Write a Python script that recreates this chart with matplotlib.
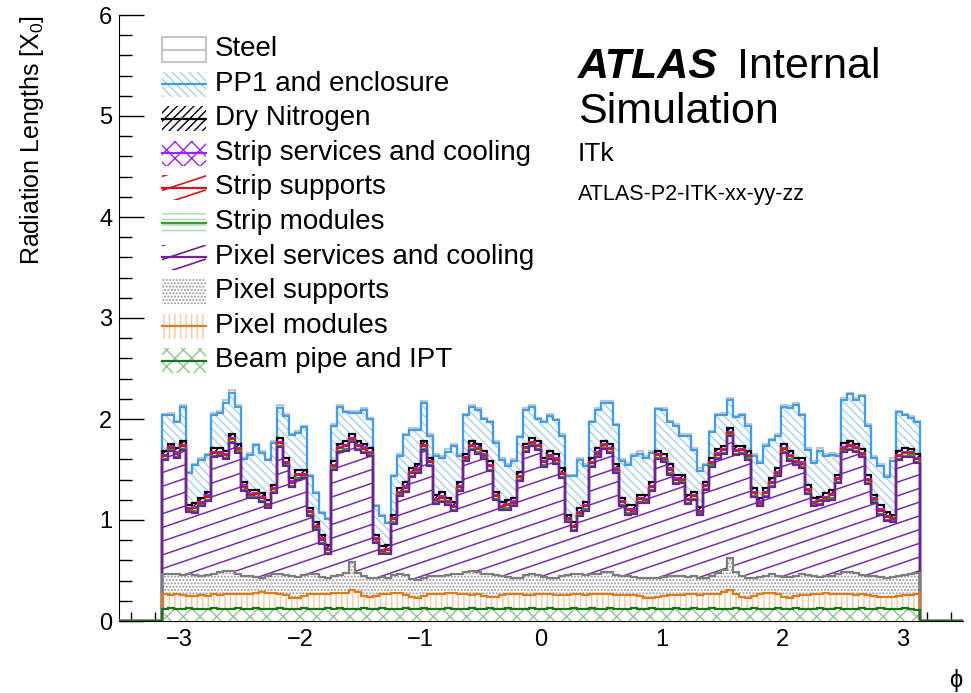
import numpy as np
import matplotlib
matplotlib.use('Agg')
import matplotlib.pyplot as plt
from matplotlib.patches import Rectangle
from matplotlib.lines import Line2D
from matplotlib.collections import LineCollection
from matplotlib.ticker import MultipleLocator
from matplotlib.transforms import Affine2D

plt.rcParams['font.family'] = ['Liberation Sans', 'DejaVu Sans']
plt.rcParams['mathtext.default'] = 'regular'
plt.rcParams['hatch.linewidth'] = 1.0

# ── binning in phi ──────────────────────────────────────────
n_bins = 126
phi_edges = np.linspace(-np.pi, np.pi, n_bins + 1)

# ── stack boundaries (X0) ───────────────────────────────────
# top of everything (steel on top of PP1)
top_total = [
    2.05, 2.06, 1.98, 2.14, 1.48, 1.55, 1.61, 1.65, 2.06, 2.08, 2.19, 2.29, 2.14, 1.61, 1.66, 1.75, 1.68, 1.60,
    1.78, 2.14, 2.05, 1.85, 1.88, 1.93, 1.45, 1.28, 1.08, 1.02, 1.95, 2.14, 2.08, 2.08, 2.08, 2.11, 2.01, 1.15,
    1.05, 0.98, 1.45, 1.65, 1.85, 1.91, 1.91, 2.18, 1.85, 1.65, 1.63, 1.70, 1.75, 1.65, 2.05, 2.14, 2.11, 2.01,
    1.98, 1.78, 1.61, 1.55, 1.60, 1.83, 2.11, 2.14, 2.01, 1.98, 2.05, 2.00, 1.85, 1.45, 1.45, 1.61, 1.55, 1.98,
    2.11, 2.18, 2.18, 1.95, 1.60, 1.56, 1.65, 1.68, 1.63, 1.68, 2.11, 2.11, 1.98, 1.95, 1.85, 1.85, 1.71, 1.51,
    1.55, 1.88, 2.05, 2.06, 2.21, 2.03, 2.05, 1.95, 1.65, 1.58, 1.75, 1.80, 1.85, 2.14, 2.13, 2.16, 2.05, 1.71,
    1.58, 1.71, 1.65, 1.66, 1.65, 2.21, 2.26, 2.21, 2.24, 1.95, 1.63, 1.55, 1.45, 1.61, 2.08, 2.05, 2.03, 1.98,
]
# top of the dry nitrogen (everything except PP1 and steel)
top_dry_n2 = [
    1.68, 1.75, 1.71, 1.78, 1.15, 1.17, 1.22, 1.28, 1.71, 1.71, 1.68, 1.85, 1.75, 1.38, 1.30, 1.30, 1.27, 1.20,
    1.35, 1.81, 1.61, 1.42, 1.50, 1.50, 1.12, 0.98, 0.85, 0.75, 1.58, 1.75, 1.78, 1.85, 1.78, 1.75, 1.71, 0.85,
    0.74, 0.75, 1.05, 1.32, 1.38, 1.51, 1.55, 1.78, 1.61, 1.25, 1.28, 1.22, 1.18, 1.38, 1.65, 1.78, 1.75, 1.68,
    1.58, 1.28, 1.18, 1.20, 1.22, 1.48, 1.75, 1.81, 1.78, 1.61, 1.68, 1.65, 1.51, 1.05, 0.98, 1.12, 1.18, 1.61,
    1.71, 1.78, 1.75, 1.55, 1.22, 1.15, 1.15, 1.25, 1.25, 1.38, 1.68, 1.65, 1.55, 1.45, 1.45, 1.25, 1.28, 1.13,
    1.38, 1.61, 1.70, 1.73, 1.91, 1.73, 1.73, 1.68, 1.32, 1.22, 1.32, 1.42, 1.51, 1.75, 1.68, 1.61, 1.61, 1.35,
    1.22, 1.23, 1.27, 1.30, 1.45, 1.76, 1.78, 1.75, 1.70, 1.45, 1.25, 1.15, 1.08, 1.05, 1.68, 1.71, 1.70, 1.65,
]
# top of the pixel supports
top_pix_sup = [
    0.463, 0.463, 0.469, 0.453, 0.463, 0.453, 0.443, 0.453, 0.463, 0.482, 0.496, 0.493, 0.463, 0.449, 0.443, 0.436, 0.423, 0.443,
    0.463, 0.466, 0.453, 0.443, 0.436, 0.453, 0.466, 0.463, 0.436, 0.423, 0.449, 0.459, 0.476, 0.585, 0.476, 0.443, 0.429, 0.423,
    0.436, 0.429, 0.456, 0.463, 0.453, 0.416, 0.410, 0.429, 0.446, 0.449, 0.449, 0.456, 0.463, 0.463, 0.482, 0.493, 0.489, 0.469,
    0.463, 0.456, 0.449, 0.436, 0.423, 0.429, 0.453, 0.463, 0.456, 0.436, 0.429, 0.423, 0.449, 0.456, 0.463, 0.463, 0.456, 0.463,
    0.469, 0.486, 0.482, 0.456, 0.446, 0.443, 0.436, 0.429, 0.423, 0.429, 0.423, 0.436, 0.443, 0.449, 0.443, 0.436, 0.449, 0.429,
    0.423, 0.449, 0.476, 0.503, 0.622, 0.482, 0.443, 0.429, 0.423, 0.436, 0.449, 0.463, 0.449, 0.436, 0.436, 0.443, 0.463, 0.456,
    0.443, 0.436, 0.443, 0.449, 0.463, 0.482, 0.489, 0.476, 0.456, 0.449, 0.443, 0.436, 0.429, 0.436, 0.443, 0.456, 0.463, 0.476,
]
# top of the pixel modules
top_pix_mod = [
    0.264, 0.260, 0.264, 0.254, 0.244, 0.250, 0.257, 0.244, 0.264, 0.260, 0.264, 0.270, 0.270, 0.264, 0.270, 0.277, 0.284, 0.280,
    0.277, 0.264, 0.254, 0.230, 0.227, 0.250, 0.264, 0.270, 0.267, 0.267, 0.277, 0.277, 0.280, 0.310, 0.287, 0.244, 0.234, 0.250,
    0.264, 0.270, 0.277, 0.274, 0.257, 0.234, 0.227, 0.250, 0.270, 0.270, 0.267, 0.274, 0.277, 0.270, 0.267, 0.260, 0.264, 0.244,
    0.237, 0.240, 0.257, 0.267, 0.270, 0.264, 0.260, 0.257, 0.264, 0.270, 0.267, 0.260, 0.257, 0.260, 0.264, 0.267, 0.260, 0.270,
    0.270, 0.267, 0.264, 0.257, 0.260, 0.257, 0.260, 0.244, 0.230, 0.224, 0.237, 0.250, 0.254, 0.257, 0.260, 0.264, 0.267, 0.260,
    0.267, 0.270, 0.267, 0.284, 0.310, 0.264, 0.237, 0.230, 0.244, 0.264, 0.274, 0.277, 0.270, 0.237, 0.227, 0.244, 0.257, 0.260,
    0.270, 0.270, 0.274, 0.270, 0.267, 0.264, 0.264, 0.260, 0.264, 0.257, 0.244, 0.237, 0.237, 0.240, 0.250, 0.257, 0.260, 0.264,
]

# ── per-material values (X0) ────────────────────────────────
beam_pipe = [
    0.12, 0.13, 0.12, 0.12, 0.13, 0.12, 0.12, 0.12, 0.13, 0.12, 0.12, 0.12, 0.13, 0.12, 0.12, 0.13, 0.12, 0.12,
    0.12, 0.13, 0.12, 0.12, 0.12, 0.13, 0.12, 0.12, 0.12, 0.13, 0.12, 0.13, 0.12, 0.12, 0.12, 0.13, 0.12, 0.12,
    0.13, 0.12, 0.12, 0.12, 0.13, 0.12, 0.12, 0.13, 0.12, 0.12, 0.12, 0.13, 0.12, 0.12, 0.12, 0.13, 0.12, 0.12,
    0.13, 0.12, 0.12, 0.13, 0.12, 0.12, 0.12, 0.13, 0.12, 0.12, 0.13, 0.12, 0.12, 0.12, 0.13, 0.12, 0.12, 0.13,
    0.12, 0.12, 0.13, 0.12, 0.12, 0.12, 0.13, 0.12, 0.12, 0.13, 0.12, 0.12, 0.12, 0.13, 0.12, 0.12, 0.13, 0.12,
    0.12, 0.13, 0.12, 0.12, 0.12, 0.13, 0.12, 0.12, 0.13, 0.12, 0.12, 0.12, 0.13, 0.12, 0.12, 0.13, 0.12, 0.12,
    0.12, 0.13, 0.12, 0.12, 0.13, 0.12, 0.12, 0.12, 0.13, 0.12, 0.12, 0.13, 0.12, 0.12, 0.12, 0.13, 0.12, 0.11,
]
steel = [
    0.01, 0.02, 0.01, 0.02, 0.01, 0.01, 0.02, 0.01, 0.02, 0.02, 0.03, 0.03, 0.02, 0.01, 0.02, 0.01, 0.02, 0.01,
    0.02, 0.03, 0.02, 0.01, 0.02, 0.01, 0.01, 0.01, 0.01, 0.01, 0.02, 0.02, 0.01, 0.02, 0.02, 0.02, 0.01, 0.01,
    0.01, 0.01, 0.01, 0.02, 0.01, 0.02, 0.02, 0.02, 0.02, 0.02, 0.02, 0.03, 0.02, 0.02, 0.01, 0.02, 0.02, 0.01,
    0.01, 0.02, 0.02, 0.02, 0.02, 0.01, 0.02, 0.02, 0.01, 0.01, 0.02, 0.01, 0.02, 0.01, 0.01, 0.02, 0.02, 0.01,
    0.02, 0.02, 0.02, 0.01, 0.02, 0.02, 0.02, 0.03, 0.02, 0.02, 0.01, 0.02, 0.01, 0.02, 0.02, 0.02, 0.02, 0.02,
    0.01, 0.01, 0.01, 0.02, 0.02, 0.01, 0.01, 0.02, 0.02, 0.02, 0.02, 0.01, 0.02, 0.02, 0.02, 0.02, 0.01, 0.02,
    0.02, 0.03, 0.02, 0.02, 0.02, 0.02, 0.01, 0.02, 0.01, 0.02, 0.02, 0.02, 0.02, 0.03, 0.01, 0.01, 0.02, 0.01,
]
dry_n2 = [
    0.04, 0.03, 0.04, 0.04, 0.03, 0.04, 0.04, 0.03, 0.04, 0.04, 0.03, 0.04, 0.04, 0.03, 0.04, 0.03, 0.04, 0.04,
    0.03, 0.04, 0.04, 0.03, 0.04, 0.04, 0.03, 0.04, 0.03, 0.04, 0.04, 0.03, 0.04, 0.04, 0.04, 0.03, 0.04, 0.03,
    0.04, 0.04, 0.03, 0.04, 0.04, 0.03, 0.04, 0.04, 0.03, 0.04, 0.04, 0.03, 0.04, 0.04, 0.03, 0.04, 0.04, 0.03,
    0.04, 0.03, 0.04, 0.04, 0.03, 0.04, 0.03, 0.04, 0.04, 0.03, 0.04, 0.04, 0.04, 0.03, 0.04, 0.04, 0.03, 0.04,
    0.04, 0.03, 0.04, 0.04, 0.03, 0.04, 0.04, 0.03, 0.04, 0.04, 0.03, 0.04, 0.04, 0.03, 0.04, 0.04, 0.03, 0.04,
    0.03, 0.04, 0.04, 0.03, 0.04, 0.04, 0.03, 0.04, 0.04, 0.03, 0.04, 0.04, 0.03, 0.04, 0.04, 0.03, 0.04, 0.04,
    0.04, 0.03, 0.04, 0.04, 0.03, 0.04, 0.04, 0.03, 0.04, 0.04, 0.03, 0.04, 0.04, 0.03, 0.04, 0.04, 0.03, 0.04,
]
strip_services = [
    0.01, 0.01, 0.02, 0.01, 0.01, 0.01, 0.01, 0.02, 0.01, 0.01, 0.01, 0.01, 0.01, 0.02, 0.01, 0.01, 0.01, 0.01,
    0.01, 0.01, 0.01, 0.02, 0.01, 0.01, 0.01, 0.01, 0.02, 0.01, 0.01, 0.01, 0.01, 0.01, 0.01, 0.02, 0.01, 0.01,
    0.01, 0.01, 0.01, 0.01, 0.02, 0.01, 0.01, 0.01, 0.01, 0.01, 0.02, 0.01, 0.01, 0.01, 0.01, 0.01, 0.01, 0.02,
    0.01, 0.01, 0.01, 0.01, 0.02, 0.01, 0.01, 0.01, 0.01, 0.01, 0.01, 0.02, 0.01, 0.01, 0.01, 0.01, 0.01, 0.01,
    0.02, 0.01, 0.01, 0.01, 0.01, 0.01, 0.02, 0.01, 0.01, 0.01, 0.01, 0.01, 0.01, 0.02, 0.01, 0.01, 0.01, 0.01,
    0.01, 0.01, 0.02, 0.01, 0.01, 0.01, 0.01, 0.01, 0.01, 0.02, 0.01, 0.01, 0.01, 0.01, 0.01, 0.01, 0.02, 0.01,
    0.01, 0.01, 0.01, 0.01, 0.01, 0.02, 0.01, 0.01, 0.01, 0.01, 0.01, 0.02, 0.01, 0.01, 0.01, 0.01, 0.01, 0.01,
]
strip_supports = [
    0.03, 0.02, 0.03, 0.03, 0.02, 0.03, 0.02, 0.03, 0.03, 0.02, 0.03, 0.03, 0.02, 0.03, 0.02, 0.03, 0.03, 0.02,
    0.03, 0.03, 0.02, 0.03, 0.03, 0.02, 0.03, 0.02, 0.03, 0.03, 0.02, 0.03, 0.03, 0.02, 0.03, 0.03, 0.02, 0.03,
    0.02, 0.03, 0.03, 0.02, 0.03, 0.03, 0.02, 0.03, 0.03, 0.02, 0.03, 0.02, 0.03, 0.03, 0.02, 0.03, 0.03, 0.02,
    0.03, 0.03, 0.02, 0.03, 0.02, 0.03, 0.03, 0.02, 0.03, 0.03, 0.02, 0.03, 0.03, 0.02, 0.03, 0.02, 0.03, 0.03,
    0.02, 0.03, 0.03, 0.02, 0.03, 0.03, 0.02, 0.03, 0.02, 0.03, 0.03, 0.02, 0.03, 0.03, 0.02, 0.03, 0.03, 0.02,
    0.03, 0.02, 0.03, 0.03, 0.02, 0.03, 0.03, 0.02, 0.03, 0.02, 0.03, 0.03, 0.02, 0.03, 0.03, 0.02, 0.03, 0.03,
    0.02, 0.03, 0.02, 0.03, 0.03, 0.02, 0.03, 0.03, 0.02, 0.03, 0.02, 0.03, 0.03, 0.02, 0.03, 0.03, 0.02, 0.03,
]
strip_modules = [
    0.01, 0.01, 0.01, 0.01, 0.01, 0.02, 0.01, 0.01, 0.01, 0.01, 0.01, 0.01, 0.02, 0.01, 0.01, 0.01, 0.01, 0.01,
    0.01, 0.01, 0.01, 0.01, 0.02, 0.01, 0.01, 0.01, 0.01, 0.01, 0.01, 0.01, 0.02, 0.01, 0.01, 0.01, 0.01, 0.01,
    0.01, 0.01, 0.02, 0.01, 0.01, 0.01, 0.01, 0.01, 0.01, 0.02, 0.01, 0.01, 0.01, 0.01, 0.01, 0.01, 0.02, 0.01,
    0.01, 0.01, 0.01, 0.02, 0.01, 0.01, 0.01, 0.01, 0.01, 0.02, 0.01, 0.01, 0.01, 0.01, 0.01, 0.01, 0.02, 0.01,
    0.01, 0.01, 0.01, 0.01, 0.01, 0.02, 0.01, 0.01, 0.01, 0.01, 0.01, 0.01, 0.02, 0.01, 0.01, 0.01, 0.01, 0.01,
    0.01, 0.02, 0.01, 0.01, 0.01, 0.01, 0.01, 0.02, 0.01, 0.01, 0.01, 0.01, 0.01, 0.01, 0.02, 0.01, 0.01, 0.01,
    0.01, 0.01, 0.01, 0.02, 0.01, 0.01, 0.01, 0.01, 0.01, 0.01, 0.02, 0.01, 0.01, 0.01, 0.01, 0.01, 0.02, 0.01,
]

# materials that are read as stack boundaries
pixel_modules = np.array(top_pix_mod) - np.array(beam_pipe)
pixel_supports = np.array(top_pix_sup) - np.array(top_pix_mod)
pixel_services = (np.array(top_dry_n2) - np.array(dry_n2) - np.array(strip_services)
                  - np.array(strip_supports) - np.array(strip_modules) - np.array(top_pix_sup))
pp1 = np.array(top_total) - np.array(steel) - np.array(top_dry_n2)

# bottom -> top : (label, values, line colour, hatch, hatch colour)
layers = [
    ('Beam pipe and IPT',          beam_pipe,      '#17761a', 'xx',       '#8cc68c'),
    ('Pixel modules',              pixel_modules,  '#e07b1c', '|||',      '#f6c9a2'),
    ('Pixel supports',             pixel_supports, '#7d7d7d', '.....',    '#9a9a9a'),
    ('Pixel services and cooling', pixel_services, '#6f1fa0', 'shallow',  '#7a2bb0'),
    ('Strip modules',              strip_modules,  '#2e9e2e', '---',      '#a6dca6'),
    ('Strip supports',             strip_supports, '#d41818', '//',       '#d41818'),
    ('Strip services and cooling', strip_services, '#a020f0', 'xx',       '#a020f0'),
    ('Dry Nitrogen',               dry_n2,         '#000000', '////',     '#000000'),
    ('PP1 and enclosure',          pp1,            '#3d9ef2', '\\\\\\\\', '#a6cff4'),
    ('Steel',                      steel,          '#c6c6c6', None,       None),
]

# ── figure ──────────────────────────────────────────────────
W, H = 971, 693
fig = plt.figure(figsize=(W / 100, H / 100), dpi=100)
ax = fig.add_axes([119.25 / W, (H - 621) / H, 843.5 / W, 606 / H])
ax.set_xlim(-3.5, 3.5)
ax.set_ylim(0, 6)
ax.set_axisbelow(True)

cum = np.cumsum(np.vstack([np.array(l[1], dtype=float) for l in layers]), axis=0)
lows = np.vstack([np.zeros(n_bins), cum[:-1]])

# fills
for k, (label, vals, lc, hatch, hc) in enumerate(layers):
    lo, hi = lows[k], cum[k]
    if hatch is None:
        ax.fill_between(phi_edges, np.append(lo, lo[-1]), np.append(hi, hi[-1]), step='post',
                        facecolor='white', linewidth=0, zorder=2)
    elif hatch == 'shallow':
        poly = ax.fill_between(phi_edges, np.append(lo, lo[-1]), np.append(hi, hi[-1]), step='post',
                               facecolor='white', linewidth=0, zorder=2)
        slope, step = 0.408, 0.136
        segs = [[(-3.5, c - 3.5 * slope), (3.5, c + 3.5 * slope)]
                for c in np.arange(-1.6, 4.0, step)]
        lc_h = LineCollection(segs, colors=hc, linewidths=1.1, zorder=2.2)
        ax.add_collection(lc_h)
        lc_h.set_clip_path(poly.get_paths()[0], ax.transData)
    else:
        ax.fill_between(phi_edges, np.append(lo, lo[-1]), np.append(hi, hi[-1]), step='post',
                        facecolor='white', edgecolor=hc, hatch=hatch, linewidth=0, zorder=2)

# outlines: top of stack first, lower ones drawn over
for k in range(len(layers) - 1, -1, -1):
    hi = cum[k]
    xs = np.concatenate([[-3.5], np.repeat(phi_edges, 2), [3.5]])
    ys = np.concatenate([[0, 0], np.repeat(hi, 2), [0, 0]])
    ax.plot(xs, ys, color=layers[k][2], linewidth=1.6, zorder=10 + (len(layers) - k),
            solid_joinstyle='miter')

# ── axes styling (ROOT look) ────────────────────────────────
ax.spines['top'].set_visible(False)
ax.spines['right'].set_visible(False)
ax.spines['bottom'].set_zorder(1)
ax.xaxis.set_major_locator(MultipleLocator(1))
ax.xaxis.set_minor_locator(MultipleLocator(0.2))
ax.yaxis.set_major_locator(MultipleLocator(1))
ax.yaxis.set_minor_locator(MultipleLocator(0.2))
ax.tick_params(which='both', direction='in', top=False, right=False, labelsize=17, width=1)
ax.xaxis.set_tick_params(which='major', length=13, pad=6)
ax.xaxis.set_tick_params(which='minor', length=6.5)
ax.yaxis.set_tick_params(which='major', length=18, pad=5)
ax.yaxis.set_tick_params(which='minor', length=9)

fig.text(32 / W, 1 - 15 / H, 'Radiation Lengths [X$_0$]', rotation=90,
         ha='center', va='top', fontsize=18)
fig.text(962 / W, 1 - 681 / H, '\u03d5', ha='right', va='center', fontsize=17)

# ── ATLAS label ─────────────────────────────────────────────
fig.text(578 / W, 1 - 78 / H, 'ATLAS', fontsize=31, fontweight='bold', fontstyle='italic',
         va='baseline')
fig.text(737 / W, 1 - 78 / H, 'Internal', fontsize=31, va='baseline')
fig.text(578 / W, 1 - 123 / H, 'Simulation', fontsize=31, va='baseline')
fig.text(578 / W, 1 - 161 / H, 'ITk', fontsize=19, va='baseline')
fig.text(578 / W, 1 - 200 / H, 'ATLAS-P2-ITK-xx-yy-zz', fontsize=15.5, va='baseline')

# ── legend drawn by hand in pixel coordinates ───────────────
pix = Affine2D().scale(1 / W, -1 / H).translate(0, 1) + fig.transFigure
bx0, bw = 162, 44
for j, k in enumerate(range(len(layers) - 1, -1, -1)):
    label, vals, lc, hatch, hc = layers[k]
    base = 56 + 34.6 * j
    top, bot = base - 19, base + 6
    mid = (top + bot) / 2
    clip = Rectangle((bx0, top), bw, bot - top, transform=pix, facecolor='none', edgecolor='none')
    fig.add_artist(clip)
    if hatch is None:
        fig.add_artist(Rectangle((bx0, top), bw, bot - top, transform=pix, facecolor='white',
                                 edgecolor=lc, linewidth=1.5))
    elif hatch == 'shallow' or label == 'Strip supports':
        for c in (bot + 4, bot - 10, bot - 24):
            ln = Line2D([bx0, bx0 + bw], [c, c - 0.33 * bw], transform=pix, color=lc, linewidth=1.2)
            ln.set_clip_path(clip)
            fig.add_artist(ln)
    else:
        fig.add_artist(Rectangle((bx0, top), bw, bot - top, transform=pix, facecolor='none',
                                 edgecolor=hc, hatch=hatch, linewidth=0))
    if label != 'Pixel supports':
        fig.add_artist(Line2D([bx0, bx0 + bw], [mid, mid], transform=pix, color=lc, linewidth=1.6))
    fig.text(215 / W, 1 - base / H, label, fontsize=20, va='baseline')

fig.savefig('out.png', dpi=100, facecolor='white')
